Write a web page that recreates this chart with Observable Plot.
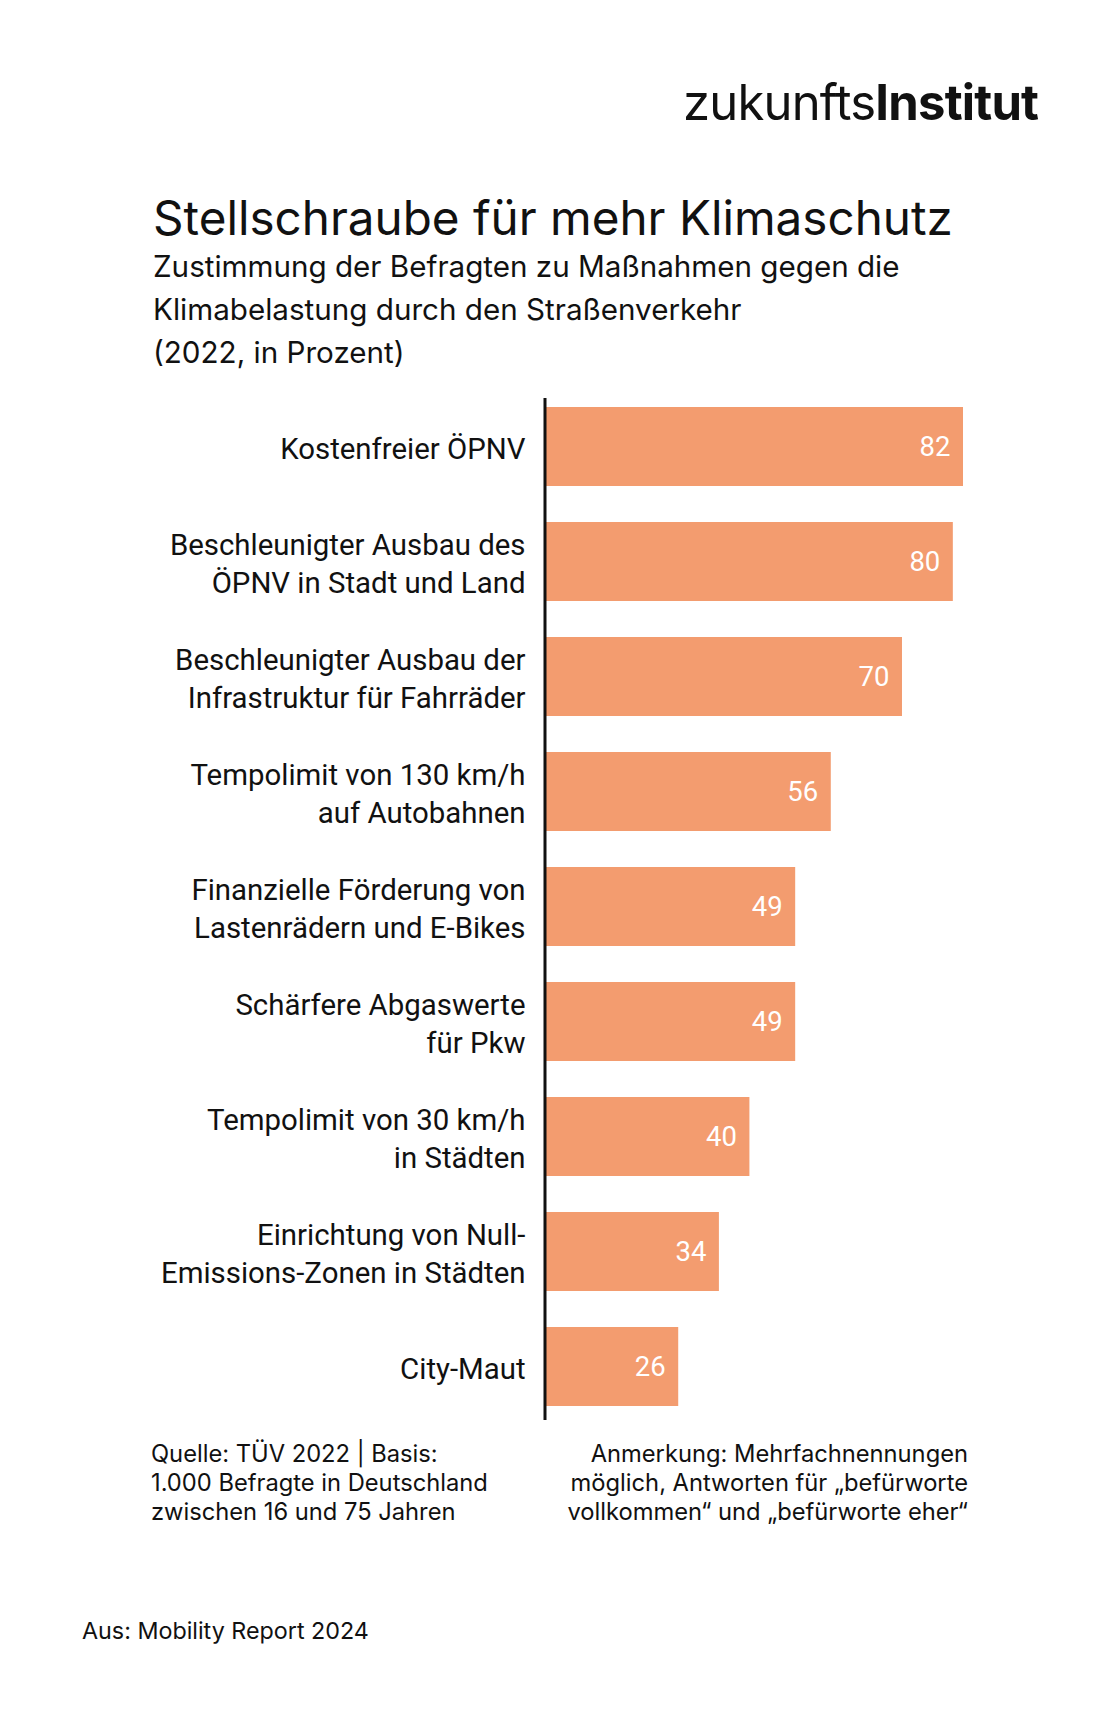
<!DOCTYPE html>
<html>
<head>
<meta charset="utf-8">
<script src="https://cdn.jsdelivr.net/npm/d3@7"></script>
<script src="https://cdn.jsdelivr.net/npm/@observablehq/plot@0.6"></script>
<style>
  html, body { margin: 0; padding: 0; background: #fff; }
  #page { position: relative; width: 1120px; height: 1719px; background: #fff; overflow: hidden; }
  #page svg { position: absolute; left: 0; }
</style>
</head>
<body>
<div id="page"></div>
<script>
// ---- data ----
const categories = [
  "Kostenfreier ÖPNV",
  "Beschleunigter Ausbau des\nÖPNV in Stadt und Land",
  "Beschleunigter Ausbau der\nInfrastruktur für Fahrräder",
  "Tempolimit von 130 km/h\nauf Autobahnen",
  "Finanzielle Förderung von\nLastenrädern und E-Bikes",
  "Schärfere Abgaswerte\nfür Pkw",
  "Tempolimit von 30 km/h\nin Städten",
  "Einrichtung von Null-\nEmissions-Zonen in Städten",
  "City-Maut"
];
const values = [82, 80, 70, 56, 49, 49, 40, 34, 26];

const logoRegular = "zukunfts";
const logoBold = "Institut";
const title = "Stellschraube für mehr Klimaschutz";
const subtitleLines = [
  "Zustimmung der Befragten zu Maßnahmen gegen die",
  "Klimabelastung durch den Straßenverkehr",
  "(2022, in Prozent)"
];
const sourceLines = [
  "Quelle: TÜV 2022 | Basis:",
  "1.000 Befragte in Deutschland",
  "zwischen 16 und 75 Jahren"
];
const noteLines = [
  "Anmerkung: Mehrfachnennungen",
  "möglich, Antworten für „befürworte",
  "vollkommen“ und „befürworte eher“"
];
const credit = "Aus: Mobility Report 2024";

const table = categories.map((c, i) => ({category: c, value: values[i]}));

const page = d3.select("#page");
const BAR = "#F39C6F";
const INK = "#111111";
const FONT = "Inter, 'Noto Sans', sans-serif";

// scale a text's font size so that it spans the target width
function fit(sel, target) {
  const w = sel.node().getComputedTextLength();
  const fs = +sel.attr("font-size");
  const nfs = w > 0 ? fs * target / w : fs;
  sel.attr("font-size", nfs);
  return nfs;
}

// ---- header ----
const head = page.append("svg")
  .attr("width", 1120).attr("height", 380)
  .style("top", "0px");

const logo = head.append("text")
  .attr("x", 683).attr("y", 120)
  .attr("font-family", FONT)
  .attr("font-size", 48)
  .attr("letter-spacing", -0.8)
  .attr("fill", INK);
logo.append("tspan").attr("font-weight", 400).text(logoRegular);
logo.append("tspan").attr("font-weight", 700).text(logoBold);
fit(logo, 355);

const titleEl = head.append("text")
  .attr("x", 153).attr("y", 235)
  .attr("font-family", FONT)
  .attr("font-size", 45)
  .attr("fill", INK)
  .text(title);
fit(titleEl, 800);

const subEls = subtitleLines.map((t, i) => head.append("text")
  .attr("x", 153).attr("y", 277 + i * 43)
  .attr("font-family", FONT)
  .attr("font-size", 29)
  .attr("fill", INK)
  .text(t));
const subFs = fit(subEls[0], 747);
subEls.forEach(s => s.attr("font-size", subFs));

// ---- chart ----
const chart = Plot.plot({
  width: 1120,
  height: 1022,
  marginLeft: 546,
  marginRight: 157,
  marginTop: 0,
  marginBottom: 0,
  style: {background: "transparent", fontFamily: "Roboto, sans-serif"},
  x: {domain: [0, 82], axis: null},
  y: {domain: categories, axis: null, paddingInner: 0.315, paddingOuter: 0, range: [8.6, 1009]},
  marks: [
    Plot.barX(table, {x: "value", y: "category", fill: BAR}),
    Plot.ruleX([0], {stroke: INK, strokeWidth: 3, dx: -1.5}),
    Plot.text(table, {
      y: "category", text: "category", frameAnchor: "left",
      textAnchor: "end", dx: -21, fontSize: 29.4, lineHeight: 1.27,
      fill: INK
    }),
    Plot.text(table, {
      x: "value", y: "category", text: d => String(d.value),
      textAnchor: "end", dx: -13, fontSize: 27.5, fill: "#ffffff"
    })
  ]
});
chart.style.position = "absolute";
chart.style.top = "398px";
chart.style.left = "0px";
page.node().appendChild(chart);

// ---- footer ----
const foot = page.append("svg")
  .attr("width", 1120).attr("height", 300)
  .style("top", "1420px");

const srcEls = sourceLines.map((t, i) => foot.append("text")
  .attr("x", 151).attr("y", 42 + i * 29)
  .attr("font-family", FONT)
  .attr("font-size", 22)
  .attr("fill", INK)
  .text(t));
const footFs = fit(srcEls[1], 337);
srcEls.forEach(s => s.attr("font-size", footFs));

noteLines.forEach((t, i) => {
  foot.append("text")
    .attr("x", 968).attr("y", 42 + i * 29)
    .attr("text-anchor", "end")
    .attr("font-family", FONT)
    .attr("font-size", footFs)
    .attr("fill", INK)
    .text(t);
});
const creditEl = foot.append("text")
  .attr("x", 82).attr("y", 219)
  .attr("font-family", FONT)
  .attr("font-size", 21)
  .attr("fill", INK)
  .text(credit);
fit(creditEl, 287);
</script>
</body>
</html>
